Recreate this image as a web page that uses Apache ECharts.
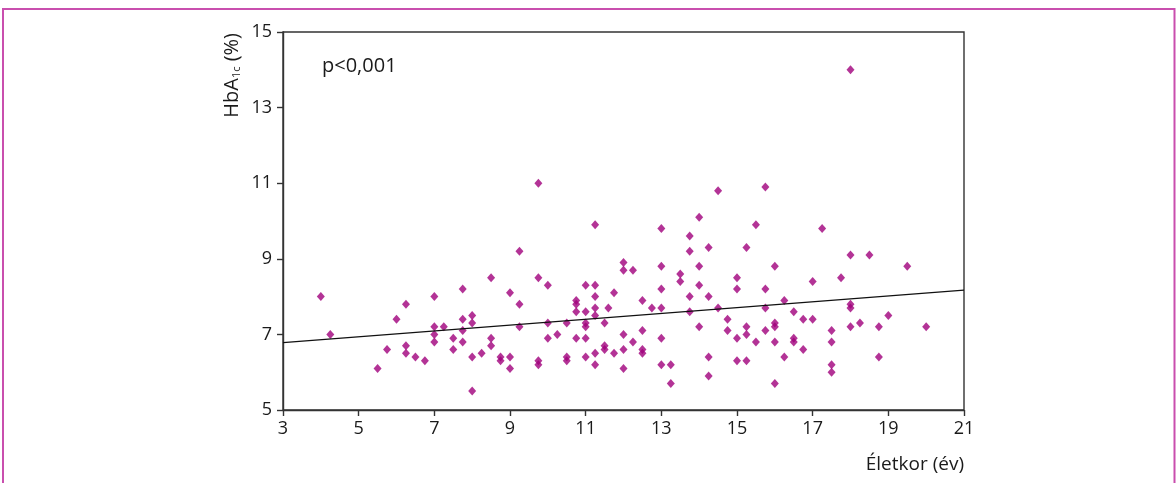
<!DOCTYPE html>
<html>
<head>
<meta charset="utf-8">
<script src="https://cdn.jsdelivr.net/npm/echarts@6/dist/echarts.min.js"></script>
<style>
  html, body { margin: 0; padding: 0; background: #ffffff; }
  #chart { width: 1176px; height: 483px; }
</style>
</head>
<body>
<div id="chart"></div>
<script>
// Age (years) of each patient
const ages = [
  4, 4.25, 5.5, 5.75, 6, 6.25, 6.25, 6.25, 6.5, 6.75,
  7, 7, 7, 7, 7.25, 7.5, 7.5, 7.75, 7.75, 7.75, 7.75,
  8, 8, 8, 8, 8.25, 8.5, 8.5, 8.5, 8.75, 8.75,
  9, 9, 9, 9.25, 9.25, 9.25,
  9.75, 9.75, 9.75, 9.75, 10, 10, 10, 10.25, 10.5, 10.5, 10.5,
  10.75, 10.75, 10.75, 10.75, 11, 11, 11, 11, 11, 11,
  11.25, 11.25, 11.25, 11.25, 11.25, 11.25, 11.25,
  11.5, 11.5, 11.5, 11.6,
  11.75, 11.75, 12, 12, 12, 12, 12, 12.25, 12.25,
  12.5, 12.5, 12.5, 12.5, 12.75,
  13, 13, 13, 13, 13, 13, 13.25, 13.25, 13.5, 13.5,
  13.75, 13.75, 13.75, 13.75, 14, 14, 14, 14,
  14.25, 14.25, 14.25, 14.25, 14.5, 14.5, 14.75, 14.75,
  15, 15, 15, 15, 15.25, 15.25, 15.25, 15.25,
  15.5, 15.5, 15.75, 15.75, 15.75, 15.75,
  16, 16, 16, 16, 16, 16.25, 16.25, 16.5, 16.5, 16.5,
  16.75, 16.75, 17, 17, 17.25, 17.5, 17.5, 17.5, 17.5,
  17.75, 18, 18, 18, 18, 18, 18.25, 18.5, 18.75, 18.75, 19, 19.5, 20
];
// HbA1c (%) for the same patients
const hba1c = [
  8.0, 7.0, 6.1, 6.6, 7.4, 7.8, 6.7, 6.5, 6.4, 6.3,
  8.0, 7.2, 7.0, 6.8, 7.2, 6.9, 6.6, 8.2, 7.4, 7.1, 6.8,
  7.5, 7.3, 6.4, 5.5, 6.5, 8.5, 6.9, 6.7, 6.4, 6.3,
  8.1, 6.4, 6.1, 9.2, 7.8, 7.2,
  11.0, 8.5, 6.3, 6.2, 8.3, 7.3, 6.9, 7.0, 7.3, 6.4, 6.3,
  7.9, 7.8, 7.6, 6.9, 8.3, 7.6, 7.3, 7.2, 6.9, 6.4,
  9.9, 8.3, 8.0, 7.7, 7.5, 6.5, 6.2,
  7.3, 6.7, 6.6, 7.7,
  8.1, 6.5, 8.9, 8.7, 7.0, 6.6, 6.1, 8.7, 6.8,
  7.9, 7.1, 6.6, 6.5, 7.7,
  9.8, 8.8, 8.2, 7.7, 6.9, 6.2, 6.2, 5.7, 8.6, 8.4,
  9.6, 9.2, 8.0, 7.6, 10.1, 8.8, 8.3, 7.2,
  9.3, 8.0, 6.4, 5.9, 10.8, 7.7, 7.4, 7.1,
  8.5, 8.2, 6.9, 6.3, 9.3, 7.2, 7.0, 6.3,
  9.9, 6.8, 10.9, 8.2, 7.7, 7.1,
  8.8, 7.3, 7.2, 6.8, 5.7, 7.9, 6.4, 7.6, 6.9, 6.8,
  7.4, 6.6, 8.4, 7.4, 9.8, 7.1, 6.8, 6.2, 6.0,
  8.5, 14.0, 9.1, 7.8, 7.7, 7.2, 7.3, 9.1, 7.2, 6.4, 7.5, 8.8, 7.2
];
// Fitted regression line endpoints
const fitX = [3, 21];
const fitY = [6.78, 8.17];

// Axis tick values
const xTicks = [3, 5, 7, 9, 11, 13, 15, 17, 19, 21];
const yTicks = [5, 7, 9, 11, 13, 15];

const xTitle = 'Életkor (év)';
const pText = 'p<0,001';

const FONT = '"Open Sans", "Noto Sans", sans-serif';
const AXIS_COLOR = '#333333';
const MARK_COLOR = '#a0007c';
const FRAME_COLOR = '#c94fae';

const points = ages.map((a, i) => [a, hba1c[i]]);
const fitLine = fitX.map((x, i) => [x, fitY[i]]);

const chart = echarts.init(document.getElementById('chart'), null, { renderer: 'canvas' });

const axisCommon = {
  type: 'value',
  splitLine: { show: false },
  axisLine: { show: true, onZero: false, lineStyle: { color: AXIS_COLOR, width: 1.4 } },
  axisTick: { show: true, inside: false, length: 6, lineStyle: { color: AXIS_COLOR, width: 1.4 } },
  axisLabel: { color: '#1a1a1a', fontSize: 18, fontFamily: FONT }
};

chart.setOption({
  animation: false,
  backgroundColor: '#ffffff',
  grid: {
    left: 283, right: 212, top: 32, bottom: 73,
    show: true, borderColor: AXIS_COLOR, borderWidth: 1.4, backgroundColor: 'transparent'
  },
  xAxis: Object.assign({}, axisCommon, {
    min: xTicks[0], max: xTicks[xTicks.length - 1], interval: 2,
    axisLabel: Object.assign({}, axisCommon.axisLabel, { margin: 10 })
  }),
  yAxis: Object.assign({}, axisCommon, {
    min: yTicks[0], max: yTicks[yTicks.length - 1], interval: 2,
    axisLabel: Object.assign({}, axisCommon.axisLabel, { margin: 11 })
  }),
  series: [
    {
      type: 'scatter',
      data: points,
      symbol: 'diamond',
      symbolSize: [8, 9],
      itemStyle: { color: MARK_COLOR },
      z: 3
    },
    {
      type: 'line',
      data: fitLine,
      symbol: 'none',
      lineStyle: { color: '#111111', width: 1.3 },
      z: 4
    }
  ],
  graphic: [
    // page frame (left, top, right)
    { type: 'polyline', silent: true,
      shape: { points: [[3, 483], [3, 9], [1174.5, 9], [1174.5, 483]] },
      style: { stroke: FRAME_COLOR, lineWidth: 2, fill: null } },
    // y-axis title with subscript
    { type: 'text', x: 230, y: 33, rotation: Math.PI / 2,
      style: {
        text: '{a|HbA}{s|1c}{a| (%)}',
        align: 'right', verticalAlign: 'middle',
        fill: '#1a1a1a', font: '20px ' + FONT,
        rich: {
          a: { fontSize: 20, fontFamily: FONT, fill: '#1a1a1a', lineHeight: 24, verticalAlign: 'bottom' },
          s: { fontSize: 11, fontFamily: FONT, fill: '#1a1a1a', lineHeight: 24, verticalAlign: 'bottom', padding: [7, 0, 0, 0] }
        }
      } },
    // x-axis title
    { type: 'text', x: 964, y: 465,
      style: { text: xTitle, align: 'right', verticalAlign: 'middle',
               fill: '#1a1a1a', font: '19px ' + FONT } },
    // significance note
    { type: 'text', x: 322, y: 66,
      style: { text: pText, align: 'left', verticalAlign: 'middle',
               fill: '#1a1a1a', font: '20px ' + FONT } }
  ]
});
</script>
</body>
</html>
